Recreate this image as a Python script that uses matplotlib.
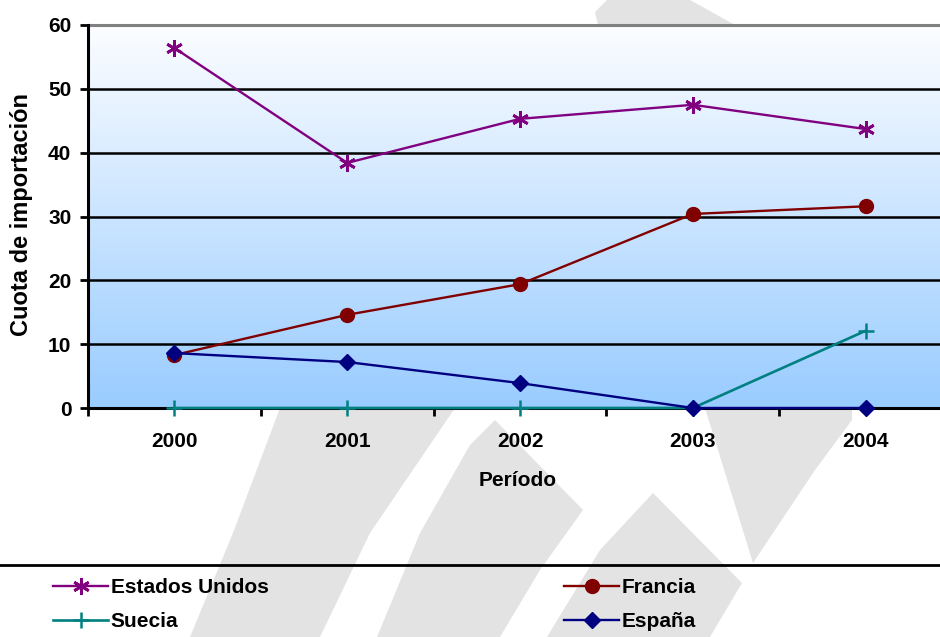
import numpy as np
import matplotlib
matplotlib.use("Agg")
import matplotlib.pyplot as plt
from matplotlib.patches import Polygon
from matplotlib.lines import Line2D

plt.rcParams['font.family'] = ['Liberation Sans', 'DejaVu Sans']
plt.rcParams['font.weight'] = 'bold'

# data
years = ['2000', '2001', '2002', '2003', '2004']
estados_unidos = [56.4, 38.4, 45.3, 47.5, 43.7]
francia = [8.3, 14.6, 19.4, 30.4, 31.6]
suecia = [0, 0, 0, 0, 12.1]
espana = [8.6, 7.2, 3.9, 0, 0]

W, H = 940, 637
fig = plt.figure(figsize=(9.4, 6.37), dpi=100)

# grey watermark behind everything (pixel outlines -> figure fraction)
def px(pts):
    return [(x / W, 1 - y / H) for x, y in pts]

shapes = [
    [(190, 637), (233, 533), (280, 408), (455, 408), (370, 533), (320, 637)],
    [(377, 637), (420, 533), (470, 445), (495, 420), (583, 510), (540, 570), (500, 637)],
    [(547, 637), (600, 550), (653, 493), (742, 583), (710, 637)],
    [(705, 408), (753, 563), (815, 470), (852, 420), (852, 408)],
    [(598, 25), (595, 12), (607, 0), (690, 0), (735, 25)],
]
for s in shapes:
    fig.patches.append(Polygon(px(s), closed=True, transform=fig.transFigure,
                               facecolor='#e3e3e3', edgecolor='none', zorder=0))

ax = fig.add_axes([88 / W, 1 - 408 / H, 1 - 88 / W, (408 - 25) / H])
ax.set_zorder(1)

x = np.arange(len(years))
ax.set_xlim(-0.5, 4.43)
ax.set_ylim(0, 60)

# gradient plot area
grad = np.linspace(0, 1, 256).reshape(-1, 1)
top = np.array([252, 253, 255]) / 255
bot = np.array([153, 204, 255]) / 255
img = top * (1 - grad[..., None]) + bot * grad[..., None]
ax.imshow(img, extent=[-0.5, 4.43, 0, 60], aspect='auto', zorder=0)

for v in [10, 20, 30, 40, 50]:
    ax.axhline(v, color='black', lw=1.8, zorder=1)
ax.axhline(60, color='#808080', lw=2.2, zorder=1, clip_on=False)

l_us, = ax.plot(x, estados_unidos, color='#800080', lw=1.7, marker=(6, 2, 0), ms=12,
                mew=2, label='Estados Unidos', zorder=3, clip_on=False)
l_fr, = ax.plot(x, francia, color='#800000', lw=1.7, marker='o', ms=10,
                label='Francia', zorder=3, clip_on=False)
l_se, = ax.plot(x, suecia, color='#008080', lw=1.9, marker='+', ms=12, mew=1.8,
                label='Suecia', zorder=4, clip_on=False)
l_es, = ax.plot(x, espana, color='#000080', lw=1.7, marker='D', ms=8.5,
                label='España', zorder=5, clip_on=False)

for sp in ['top', 'right']:
    ax.spines[sp].set_visible(False)
ax.spines['left'].set_linewidth(2.2)
ax.spines['bottom'].set_linewidth(2.2)
ax.spines['left'].set_zorder(2)
ax.spines['bottom'].set_zorder(2)

ax.set_yticks(range(0, 61, 10))
ax.tick_params(axis='y', length=6, width=2, pad=6, labelsize=15)
ax.set_xticks([-0.5, 0.5, 1.5, 2.5, 3.5])
ax.set_xticklabels([])
ax.tick_params(axis='x', which='major', length=6, width=2, direction='out')
ax.set_xticks(x, minor=True)
ax.set_xticklabels(years, minor=True)
ax.tick_params(axis='x', which='minor', length=0, pad=17, labelsize=15)

fig.text(22 / W, 1 - 215 / H, 'Cuota de importación', rotation=90,
         ha='center', va='center', fontsize=17, fontweight='bold')
fig.text(518 / W, 1 - 480 / H, 'Período', ha='center', va='center',
         fontsize=15, fontweight='bold')

# legend (row-major order like the original)
fig.add_artist(Line2D([0, 1], [1 - 565 / H, 1 - 565 / H], color='black', lw=2,
                      transform=fig.transFigure))
fig.legend([l_us, l_se, l_fr, l_es],
           ['Estados Unidos', 'Suecia', 'Francia', 'España'],
           ncol=2, loc='upper left',
           bbox_to_anchor=(43 / W, 1 - 568 / H), frameon=False,
           handlelength=2.6, handletextpad=0.15,
           columnspacing=14.2, labelspacing=0.72, borderpad=0,
           prop={'weight': 'bold', 'size': 15})

fig.savefig('out.png', dpi=100)
